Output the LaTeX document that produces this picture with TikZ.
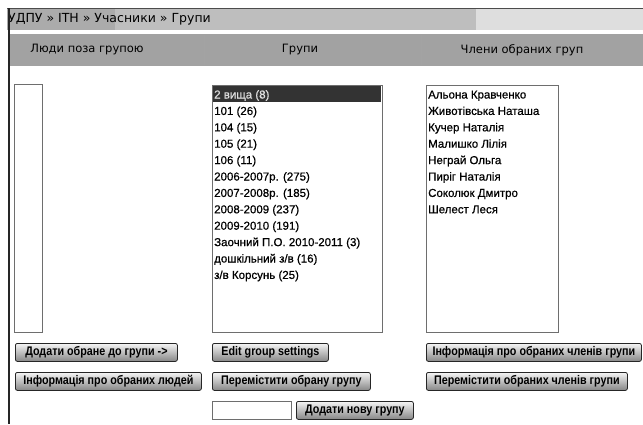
\documentclass[tikz,border=0pt]{standalone}
\usepackage{fontspec}
\setmainfont{Liberation Sans}
\newfontfamily\btnfamily[FakeStretch=0.86]{Liberation Sans}
\newfontfamily\listfamily[FakeBold=0.6]{Liberation Sans}
\newfontfamily\headfamily{DejaVu Sans}
\definecolor{crumbA}{HTML}{ABABAB}
\definecolor{crumbB}{HTML}{BEBEBE}
\definecolor{crumbC}{HTML}{DEDEDE}
\definecolor{headbar}{HTML}{A2A2A2}
\definecolor{boxline}{HTML}{6E6E6E}
\definecolor{selrow}{HTML}{333333}
\tikzset{
  listbox/.style={draw=boxline, line width=1.1pt, fill=white, anchor=north west, inner sep=0pt},
  btn/.style={draw=black!85, line width=0.8pt, rounded corners=2pt, top color=gray!8, middle color=gray!40, bottom color=gray!95,
     anchor=north west, inner sep=0pt, minimum height=18pt, font=\btnfamily\bfseries\fontsize{12.5}{13}\selectfont},
  item/.style={anchor=west, inner sep=0pt, text height=8.5pt, text depth=2.5pt, font=\listfamily\fontsize{11.5}{12}\selectfont},
  headtxt/.style={inner sep=0pt, font=\headfamily\fontsize{11.5}{12}\selectfont},
}
\begin{document}
\begin{tikzpicture}[x=1pt,y=-1pt]
\useasboundingbox (0,0) rectangle (643,424);
\fill[white] (0,0) rectangle (643,424);
% breadcrumb bar
\fill[crumbA] (7,8.5) rectangle (115,30);
\fill[crumbB] (115,8.5) rectangle (476,30);
\fill[crumbC] (476,8.5) rectangle (643,30);
\draw[gray!60!black, line width=0.8pt] (7,8.6) -- (643,8.6);
\node[anchor=west, inner sep=0pt, font=\headfamily\fontsize{12.5}{13}\selectfont] (crumb) at (8,19.5) {УДПУ » ІТН » Учасники » Групи};
% header bar
\fill[headbar] (9,34) rectangle (643,66);
\draw[gray!72, line width=0.6pt] (204,35) -- (204,65);
\draw[gray!72, line width=0.6pt] (421,35) -- (421,65);
\node[headtxt] (h1) at (87,50) {Люди поза групою};
\node[headtxt] (h2) at (300,50) {Групи};
\node[headtxt] (h3) at (522,50) {Члени обраних груп};
% left border
\draw[gray!30!black, line width=1.4pt] (9,8) -- (9,424);
% list boxes
\node[listbox, minimum width=28pt, minimum height=248pt] (lbA) at (14,84) {};
\node[listbox, minimum width=170pt, minimum height=247pt] (lbB) at (212,85) {};
\node[listbox, minimum width=132pt, minimum height=247pt] (lbC) at (426,85) {};
% selected row
\fill[selrow] (213,86) rectangle (381,102);
\foreach \t [count=\i from 0] in {{2 вища (8)},{101 (26)},{104 (15)},{105 (21)},{106 (11)},{2006-2007р. (275)},{2007-2008р. (185)},{2008-2009 (237)},{2009-2010 (191)},{Заочний П.О. 2010-2011 (3)},{дошкільний з/в (16)},{з/в Корсунь (25)}}{
  \ifnum\i=0
    \node[item, text=gray!25] (g\i) at (214,{95.5+16.4*\i}) {\t};
  \else
    \node[item] (g\i) at (214,{95.5+16.4*\i}) {\t};
  \fi
}
\foreach \t [count=\i from 0] in {Альона Кравченко,Животівська Наташа,Кучер Наталія,Малишко Лілія,Неграй Ольга,Пиріг Наталія,Соколюк Дмитро,Шелест Леся}{
  \node[item] (m\i) at (428,{95.5+16.4*\i}) {\t};
}
% buttons
\node[btn, minimum width=162pt] (b1) at (15,343) {Додати обране до групи ->};
\node[btn, minimum width=186pt] (b2) at (15,372) {Інформація про обраних людей};
\node[btn, minimum width=116pt] (b3) at (212,343) {Edit group settings};
\node[btn, minimum width=158pt] (b4) at (212,372) {Перемістити обрану групу};
\node[btn, minimum width=117pt] (b5) at (296,401) {Додати нову групу};
\node[btn, minimum width=215pt] (b6) at (426,343) {Інформація про обраних членів групи};
\node[btn, minimum width=201pt] (b7) at (426,372) {Перемістити обраних членів групи};
% text input
\node[listbox, line width=0.9pt, minimum width=79pt, minimum height=18pt] (inp) at (212,401) {};
\end{tikzpicture}
\end{document}
